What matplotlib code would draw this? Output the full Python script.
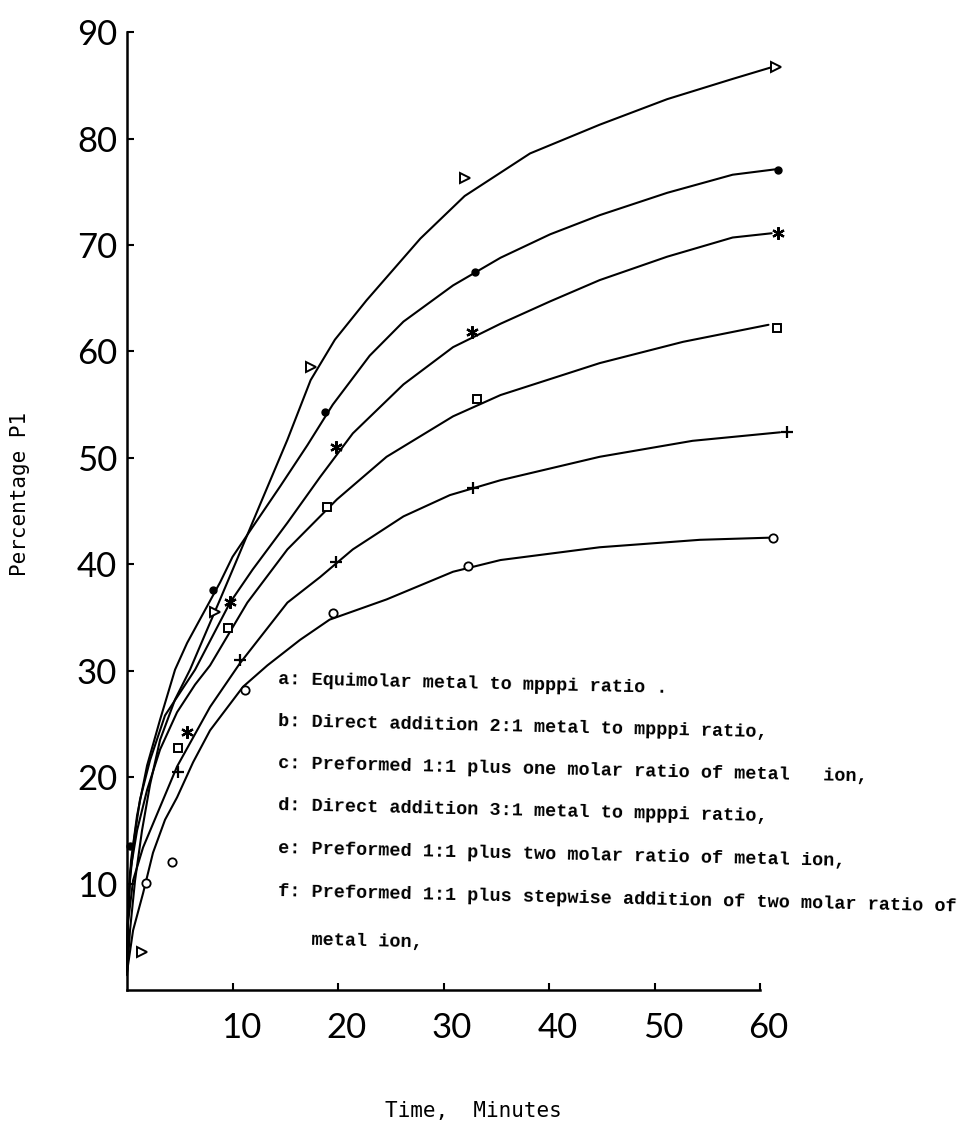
"""
plot.py

Redraws the scanned 'Percentage P1 vs time' figure:
six hand-drawn curves (a-f) with their measured points,
end letters and the typed key in the lower right.
"""

import matplotlib
matplotlib.use("Agg")
import matplotlib.pyplot as plt
from matplotlib import transforms

# ---------------------------
# Values (time in minutes, percentage P1)
# ---------------------------
# drawn curves
a_curve_t = [0, 0.57, 1.52, 2.46, 3.6, 4.74, 6.26, 7.87, 11.0, 13.3, 16.4, 19.2, 24.6, 30.9, 35.4, 44.8, 54.3, 60.9]
a_curve_y = [1.7, 5.6, 9.1, 12.9, 16.0, 18.1, 21.4, 24.4, 28.5, 30.5, 32.9, 34.8, 36.7, 39.3, 40.4, 41.6, 42.3, 42.5]

b_curve_t = [0, 0.05, 0.28, 0.95, 1.9, 3.13, 4.74, 6.45, 7.87, 11.4, 15.2, 19.9, 24.6, 30.9, 35.4, 44.8, 52.7, 60.8]
b_curve_y = [1.9, 6.1, 11.0, 15.0, 18.8, 22.6, 26.1, 28.7, 30.5, 36.4, 41.4, 46.1, 50.1, 53.9, 55.9, 58.9, 60.9, 62.5]

c_curve_t = [0, 0.09, 0.57, 1.52, 3.13, 4.74, 7.87, 10.7, 15.2, 18.3, 21.4, 26.2, 30.6, 35.4, 44.8, 53.6, 61.9]
c_curve_y = [1.9, 6.3, 10.3, 13.4, 17.2, 21.0, 26.6, 30.7, 36.4, 38.8, 41.4, 44.5, 46.5, 47.9, 50.1, 51.6, 52.4]

d_curve_t = [0, 0.28, 0.76, 1.42, 2.18, 3.13, 4.55, 5.97, 7.39, 8.82, 10.4, 12.6, 15.2, 17.4, 19.7, 22.7, 27.8, 32.0, 38.2, 44.8, 51.2, 57.4, 61.1]
d_curve_y = [1.4, 5.6, 10.3, 15.0, 19.3, 23.5, 27.3, 30.1, 33.4, 36.7, 40.4, 45.6, 51.7, 57.3, 61.1, 64.8, 70.6, 74.6, 78.6, 81.3, 83.7, 85.6, 86.7]

e_curve_t = [0, 0.09, 0.38, 0.95, 1.9, 3.13, 4.55, 5.69, 8.82, 10.0, 11.9, 14.5, 17.1, 19.5, 23.0, 26.2, 30.9, 35.4, 40.1, 44.8, 51.2, 57.4, 61.4]
e_curve_y = [1.9, 7.5, 12.2, 16.4, 21.1, 25.4, 30.1, 32.6, 38.3, 40.7, 43.5, 47.3, 51.2, 55.0, 59.6, 62.8, 66.2, 68.8, 71.0, 72.8, 74.9, 76.6, 77.1]

f_curve_t = [0, 0.09, 0.28, 0.66, 1.23, 2.18, 3.6, 6.45, 9.76, 11.9, 15.2, 18.3, 21.4, 26.2, 30.9, 35.4, 40.1, 44.8, 51.2, 57.4, 61.1]
f_curve_y = [1.9, 6.6, 10.3, 14.1, 17.9, 21.6, 25.8, 30.1, 36.4, 39.5, 43.9, 48.2, 52.3, 56.9, 60.4, 62.6, 64.7, 66.7, 68.9, 70.7, 71.1]

# measured points
a_pts_t = [1.8, 4.3, 11.2, 19.5, 32.3, 61.2]
a_pts_y = [10.1, 12.0, 28.2, 35.4, 39.8, 42.5]
b_pts_t = [4.8, 9.6, 19.0, 33.2, 61.6]
b_pts_y = [22.7, 34.0, 45.4, 55.5, 62.2]
c_pts_t = [4.8, 10.7, 19.8, 32.8, 62.6]
c_pts_y = [20.5, 31.0, 40.2, 47.2, 52.4]
d_pts_t = [1.4, 8.3, 17.4, 32.0, 61.5]
d_pts_y = [3.6, 35.5, 58.5, 76.3, 86.7]
e_pts_t = [0.3, 8.1, 18.8, 33.0, 61.7]
e_pts_y = [13.5, 37.6, 54.3, 67.5, 77.0]
f_pts_t = [5.7, 9.8, 19.8, 32.7, 61.7]
f_pts_y = [24.2, 36.5, 51.0, 61.8, 71.1]

x_ticks = [10, 20, 30, 40, 50, 60]
y_ticks = [10, 20, 30, 40, 50, 60, 70, 80, 90]

key_lines = [
    "a: Equimolar metal to mpppi ratio .",
    "b: Direct addition 2:1 metal to mpppi ratio,",
    "c: Preformed 1:1 plus one molar ratio of metal   ion,",
    "d: Direct addition 3:1 metal to mpppi ratio,",
    "e: Preformed 1:1 plus two molar ratio of metal ion,",
    "f: Preformed 1:1 plus stepwise addition of two molar ratio of",
    "   metal ion,",
]

# ---------------------------
# Styles
# ---------------------------
HAND = ["Lato", "DejaVu Sans"]
TYPE = ["Liberation Mono", "DejaVu Sans Mono"]

series = [
    ("a", a_curve_t, a_curve_y, a_pts_t, a_pts_y, dict(marker="o", ms=6, mfc="white", mec="black", mew=1.3)),
    ("b", b_curve_t, b_curve_y, b_pts_t, b_pts_y, dict(marker="s", ms=6, mfc="white", mec="black", mew=1.4)),
    ("c", c_curve_t, c_curve_y, c_pts_t, c_pts_y, dict(marker="+", ms=9, mec="black", mew=1.6)),
    ("d", d_curve_t, d_curve_y, d_pts_t, d_pts_y, dict(marker=">", ms=7, mfc="white", mec="black", mew=1.4)),
    ("e", e_curve_t, e_curve_y, e_pts_t, e_pts_y, dict(marker="o", ms=5, mfc="black", mec="black")),
    ("f", f_curve_t, f_curve_y, f_pts_t, f_pts_y, dict(marker=(6, 2, 0), ms=9, mec="black", mew=1.6)),
]


def main():
    fig = plt.figure(figsize=(9.61, 11.22), dpi=100)
    ax = fig.add_axes([0.1322, 0.1176, 0.6587, 0.8538])

    for name, ct, cy, pt, py, mk in series:
        ax.plot(ct, cy, color="black", lw=1.5, solid_capstyle="round",
                solid_joinstyle="round", clip_on=False)
        ax.plot(pt, py, ls="none", clip_on=False, zorder=3, **mk)
        ax.annotate(name, xy=(pt[-1], py[-1]), xytext=(22, 1), textcoords="offset points",
                    ha="center", va="center", fontsize=22, family=HAND)

    ax.set_xlim(0, 60)
    ax.set_ylim(0, 90)
    ax.set_xticks(x_ticks)
    ax.set_yticks(y_ticks)
    ax.set_xticklabels([str(v) for v in x_ticks])
    ax.set_yticklabels([str(v) for v in y_ticks])

    for side in ["top", "right"]:
        ax.spines[side].set_visible(False)
    for side in ["left", "bottom"]:
        ax.spines[side].set_linewidth(1.8)

    ax.tick_params(axis="both", direction="in", length=5, width=1.5)
    ax.tick_params(axis="y", pad=7)
    ax.tick_params(axis="x", pad=16)
    for lab in ax.get_xticklabels() + ax.get_yticklabels():
        lab.set_fontfamily(HAND)
        lab.set_fontsize(25)
    # hand-written x numbers sit a little right of their ticks
    shift = transforms.ScaledTranslation(6 / 72, 0, fig.dpi_scale_trans)
    for lab in ax.get_xticklabels():
        lab.set_transform(lab.get_transform() + shift)

    # typed axis titles
    fig.text(473 / 961, 1 - 1111 / 1122, "Time,  Minutes", ha="center", va="center",
             fontsize=15, family=["DejaVu Sans Mono"])
    fig.text(20 / 961, 1 - 494 / 1122, "Percentage P1", ha="center", va="center",
             rotation=90, fontsize=15, family=["DejaVu Sans Mono"])

    # typed key
    key_y = [680, 722, 764, 806, 849, 892, 940]
    for line, yy in zip(key_lines, key_y):
        fig.text(278 / 961, 1 - yy / 1122, line, ha="left", va="center", rotation=-1.3,
                 rotation_mode="anchor", fontsize=13.3, family=TYPE, fontweight="bold")

    fig.savefig("out.png", dpi=100)
    plt.close(fig)


if __name__ == "__main__":
    main()
